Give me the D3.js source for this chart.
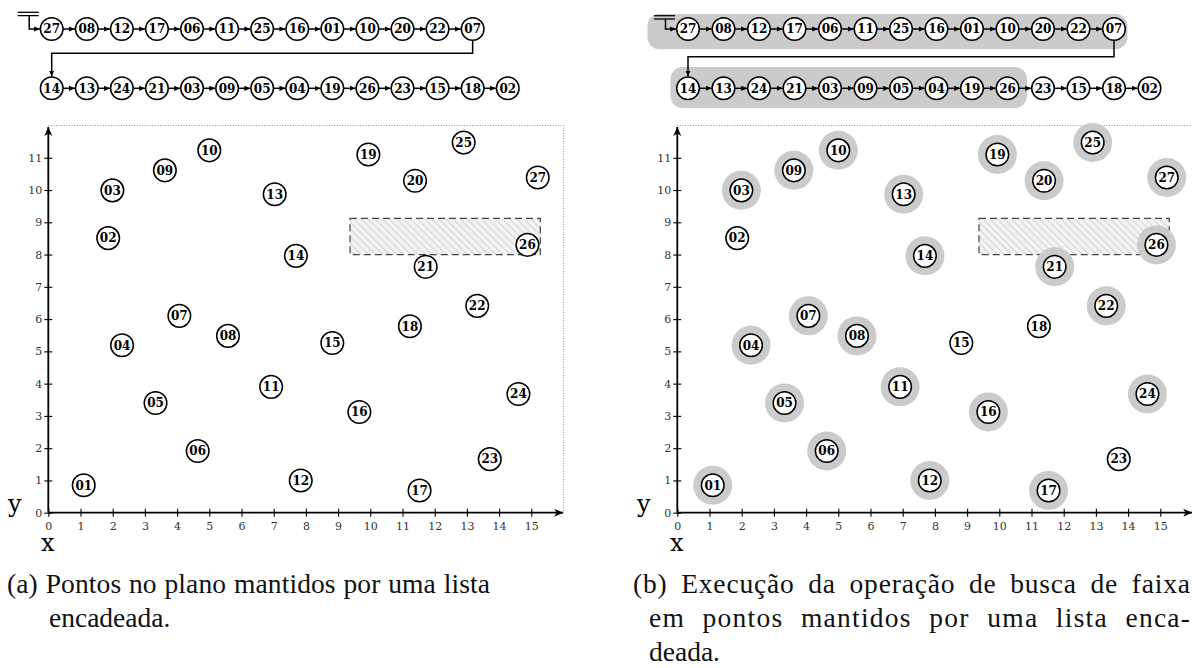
<!DOCTYPE html>
<html>
<head>
<meta charset="utf-8">
<script src="https://cdn.jsdelivr.net/npm/d3@7"></script>
<style>
  body { margin: 0; background: #fff; }
  svg { display: block; }
</style>
</head>
<body>
<script>
// pontos do plano (id, x, y)
var pointIds = ["01","02","03","04","05","06","07","08","09","10","11","12","13","14",
                "15","16","17","18","19","20","21","22","23","24","25","26","27"]
var pointX = [1.10, 1.86, 1.99, 2.29, 3.33, 4.64, 4.07, 5.58, 3.62, 5.00, 6.92, 7.84, 7.03, 7.69,
              8.82, 9.66, 11.53, 11.23, 9.94, 11.39, 11.72, 13.32, 13.71, 14.60, 12.90, 14.88, 15.20]
var pointY = [0.85, 8.51, 9.99, 5.19, 3.40, 1.91, 6.10, 5.48, 10.61, 11.23, 3.90, 1.00, 9.87, 7.96,
              5.26, 3.12, 0.69, 5.78, 11.10, 10.29, 7.62, 6.41, 1.66, 3.68, 11.47, 8.30, 10.39]

// lista encadeada, em duas linhas
var listRow1 = ["27","08","12","17","06","11","25","16","01","10","20","22","07"]
var listRow2 = ["14","13","24","21","03","09","05","04","19","26","23","15","18","02"]

// nos percorridos pela busca (figura b)
var visited = ["27","08","12","17","06","11","25","16","01","10","20","22","07",
               "14","13","24","21","03","09","05","04","19","26"]

// faixa de busca [x0, x1, y0, y1]
var queryRect = [9.37, 15.28, 8.0, 9.12]

var xTicks = d3.range(0, 16)
var yTicks = d3.range(0, 12)

var captionA = ["(a) Pontos no plano mantidos por uma lista", "encadeada."]
var captionB = ["(b) Execução da operação de busca de faixa", "em pontos mantidos por uma lista enca-", "deada."]

var width = 1192, height = 668
var R = 11.3

var svg = d3.select("body").append("svg")
    .attr("width", width)
    .attr("height", height)

var defs = svg.append("defs")
defs.append("marker")
    .attr("id", "arr")
    .attr("viewBox", "0 -3 6 6")
    .attr("refX", 6).attr("refY", 0)
    .attr("markerWidth", 6).attr("markerHeight", 6)
    .attr("markerUnits", "userSpaceOnUse")
    .attr("orient", "auto")
    .append("path").attr("d", "M0,-2.6L6,0L0,2.6Z").attr("fill", "#000")
defs.append("marker")
    .attr("id", "stealth")
    .attr("viewBox", "0 -5 10 10")
    .attr("refX", 9).attr("refY", 0)
    .attr("markerWidth", 10).attr("markerHeight", 10)
    .attr("markerUnits", "userSpaceOnUse")
    .attr("orient", "auto")
    .append("path").attr("d", "M0,-4L9,0L0,4L2.5,0Z").attr("fill", "#000")

var hatch = defs.append("pattern")
    .attr("id", "hatch")
    .attr("patternUnits", "userSpaceOnUse")
    .attr("width", 5).attr("height", 5)
    .attr("patternTransform", "rotate(-45)")
hatch.append("rect").attr("width", 5).attr("height", 5).attr("fill", "#f3f3f3")
hatch.append("line").attr("x1", 0).attr("y1", 0).attr("x2", 0).attr("y2", 5)
    .attr("stroke", "#b5b5b5").attr("stroke-width", 1)

// escalas do plano
var x = d3.scaleLinear().domain([0, 16]).range([48.3, 563.5])
var y = d3.scaleLinear().domain([0, 12]).range([512.7, 125.5])

var points = pointIds.map(function (id, i) {
    return { id: id, x: pointX[i], y: pointY[i] }
})

// capW: largura justificada de cada linha da legenda (null = linha final)
var panels = [
    { dx: 0, col0: 51.7, step: 35.08, highlight: false, headY: 12.3, connY: 53.3,
      caption: captionA, capX: 7, capIndent: 42, capW: [483, null] },
    { dx: 629, col0: 59, step: 35.5, highlight: true, headY: 15.7, connY: 56.7,
      caption: captionB, capX: 4, capIndent: 16, capW: [557, 541, null] }
]

var rowY = [29, 88.3]

panels.forEach(function (p) {
    var g = svg.append("g").attr("transform", "translate(" + p.dx + ",0)")
    var col = d3.scaleLinear().domain([0, 1]).range([p.col0, p.col0 + p.step])

    // ---------- lista ----------
    var lg = g.append("g")
    if (p.highlight) {
        lg.append("rect")
            .attr("x", col(0) - 40.5).attr("y", 14)
            .attr("width", col(12) + 13.5 - (col(0) - 40.5)).attr("height", 35.3)
            .attr("rx", 12).attr("fill", "#cbcbcb")
        lg.append("rect")
            .attr("x", col(0) - 17.5).attr("y", 67)
            .attr("width", col(9) + 19.5 - (col(0) - 17.5)).attr("height", 41)
            .attr("rx", 12).attr("fill", "#cbcbcb")
    }

    // cabeça da lista
    var hx = col(0) - 22.5
    lg.append("line").attr("x1", col(0) - 34).attr("x2", col(0) - 13)
        .attr("y1", p.headY).attr("y2", p.headY).attr("stroke", "#000").attr("stroke-width", 1.3)
    lg.append("line").attr("x1", col(0) - 34).attr("x2", col(0) - 13)
        .attr("y1", p.headY + 3.3).attr("y2", p.headY + 3.3).attr("stroke", "#000").attr("stroke-width", 1.3)
    lg.append("path")
        .attr("d", "M" + hx + "," + (p.headY + 3.3) + "V" + rowY[0] + "H" + (col(0) - R - 0.5))
        .attr("fill", "none").attr("stroke", "#000").attr("stroke-width", 1.5)
        .attr("marker-end", "url(#arr)")

    // ligação entre linhas (07 -> 14)
    lg.append("path")
        .attr("d", "M" + col(listRow1.length - 1) + "," + (rowY[0] + R) +
            "V" + p.connY + "H" + col(0) + "V" + (rowY[1] - R - 0.5))
        .attr("fill", "none").attr("stroke", "#000").attr("stroke-width", 1.5)
        .attr("marker-end", "url(#arr)")

    ;[listRow1, listRow2].forEach(function (row, r) {
        for (var i = 0; i < row.length - 1; i++) {
            lg.append("line")
                .attr("x1", col(i) + R).attr("x2", col(i + 1) - R - 0.5)
                .attr("y1", rowY[r]).attr("y2", rowY[r])
                .attr("stroke", "#000").attr("stroke-width", 1.5)
                .attr("marker-end", "url(#arr)")
        }
        var nodes = lg.selectAll(null).data(row).enter().append("g")
            .attr("transform", function (d, i) { return "translate(" + col(i) + "," + rowY[r] + ")" })
        nodes.append("circle").attr("r", R)
            .attr("fill", "#fff").attr("stroke", "#000").attr("stroke-width", 1.5)
        nodes.append("text").text(function (d) { return d })
            .attr("text-anchor", "middle").attr("dy", "0.36em")
            .attr("font-family", "DejaVu Serif").attr("font-weight", "bold").attr("font-size", 12)
    })

    // ---------- plano ----------
    var pg = g.append("g")

    // moldura pontilhada
    pg.append("path")
        .attr("d", "M" + x(0) + "," + y(12) + "H" + x(16) + "V" + y(0))
        .attr("fill", "none").attr("stroke", "#999").attr("stroke-width", 1)
        .attr("stroke-dasharray", "1,1.6")

    // faixa
    pg.append("rect")
        .attr("x", x(queryRect[0])).attr("y", y(queryRect[3]))
        .attr("width", x(queryRect[1]) - x(queryRect[0]))
        .attr("height", y(queryRect[2]) - y(queryRect[3]))
        .attr("fill", "url(#hatch)")
        .attr("stroke", "#444").attr("stroke-width", 1.2)
        .attr("stroke-dasharray", "7,4")

    // eixos
    var xAxis = pg.append("g")
        .attr("transform", "translate(0," + (y(0) - 4) + ")")
        .call(d3.axisBottom(x).tickValues(xTicks).tickSize(8).tickPadding(6))
    var yAxis = pg.append("g")
        .attr("transform", "translate(" + (x(0) + 4) + ",0)")
        .call(d3.axisLeft(y).tickValues(yTicks).tickSize(8).tickPadding(2))
    ;[xAxis, yAxis].forEach(function (a) {
        a.attr("font-family", "DejaVu Serif").attr("font-size", 11)
        a.select(".domain").remove()
        a.selectAll(".tick line").attr("stroke", "#000").attr("stroke-width", 1.1)
        a.selectAll(".tick text").attr("fill", "#333")
    })
    pg.append("line")
        .attr("x1", x(0)).attr("x2", x(16) - 0.3).attr("y1", y(0)).attr("y2", y(0))
        .attr("stroke", "#000").attr("stroke-width", 1.8).attr("marker-end", "url(#stealth)")
    pg.append("line")
        .attr("x1", x(0)).attr("x2", x(0)).attr("y1", y(0)).attr("y2", y(12) + 1.5)
        .attr("stroke", "#000").attr("stroke-width", 1.8).attr("marker-end", "url(#stealth)")

    pg.append("text").text("y")
        .attr("x", 8).attr("y", 512)
        .attr("font-family", "DejaVu Serif").attr("font-size", 24)
    pg.append("text").text("x")
        .attr("x", 41).attr("y", 551)
        .attr("font-family", "DejaVu Serif").attr("font-size", 24)

    // halos dos nos visitados
    if (p.highlight) {
        pg.selectAll(null)
            .data(points.filter(function (d) { return visited.indexOf(d.id) >= 0 }))
            .enter().append("circle")
            .attr("cx", function (d) { return x(d.x) })
            .attr("cy", function (d) { return y(d.y) })
            .attr("r", 19.5)
            .attr("fill", "#cbcbcb")
    }

    var pts = pg.selectAll(null).data(points).enter().append("g")
        .attr("transform", function (d) { return "translate(" + x(d.x) + "," + y(d.y) + ")" })
    pts.append("circle").attr("r", R)
        .attr("fill", "#fff").attr("stroke", "#000").attr("stroke-width", 1.5)
    pts.append("text").text(function (d) { return d.id })
        .attr("text-anchor", "middle").attr("dy", "0.36em")
        .attr("font-family", "DejaVu Serif").attr("font-weight", "bold").attr("font-size", 12)

    // legenda (linhas cheias justificadas: metade nos espacos, metade nas letras)
    var cap = g.append("g")
        .attr("font-family", "'Liberation Serif', 'Times New Roman', serif")
        .attr("font-size", 27.5).attr("fill", "#111")
    p.caption.forEach(function (line, i) {
        var t = cap.append("text").text(line)
            .attr("x", i == 0 ? p.capX : p.capX + p.capIndent)
            .attr("y", 593 + i * 34)
        var w = p.capW[i]
        if (w) {
            var extra = w - t.node().getComputedTextLength()
            if (extra > 0) {
                var spaces = line.split(" ").length - 1
                t.attr("word-spacing", extra * 0.55 / spaces)
                    .attr("letter-spacing", extra * 0.45 / (line.length - 1))
            }
        }
    })
})
</script>
</body>
</html>
